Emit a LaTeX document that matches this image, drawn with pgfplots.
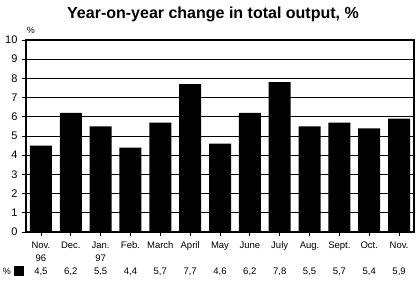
\documentclass[border=0pt]{standalone}
\usepackage{pgfplots}
\pgfplotsset{compat=1.18}
\usepackage{fontspec}
\setmainfont{Liberation Sans}
\begin{document}
\begin{tikzpicture}[x=1pt,y=1pt]
\useasboundingbox (-26,-49) rectangle (391,232);
\begin{axis}[at={(0,0)}, anchor=south west, scale only axis,
  width=388pt, height=192pt,
  xmin=-0.5, xmax=12.5, ymin=0, ymax=10,
  ytick={0,1,...,10}, xtick={0,1,...,12},
  xticklabels={{Nov.\\96\\4,5}, {Dec.\\\strut\\6,2}, {Jan.\\97\\5,5}, {Feb.\\\strut\\4,4}, {March\\\strut\\5,7}, {April\\\strut\\7,7}, {May\\\strut\\4,6}, {June\\\strut\\6,2}, {July\\\strut\\7,8}, {Aug.\\\strut\\5,5}, {Sept.\\\strut\\5,7}, {Oct.\\\strut\\5,4}, {Nov.\\\strut\\5,9}},
  xticklabel style={align=center, font=\fontsize{9.5}{13}\selectfont, yshift=-2.5pt},
  yticklabel style={font=\fontsize{11}{12}\selectfont, xshift=-1pt},
  /pgf/number format/assume math mode=true,
  ymajorgrids, grid style={black, line width=0.8pt},
  tick align=outside, major tick length=4pt,
  tick style={black, line width=0.8pt},
  tick pos=left,
  axis line style={line width=1.6pt},
  clip=false,
]
\addplot[ybar, bar width=22pt, fill=black, draw=none] coordinates {
(0,4.5) (1,6.2) (2,5.5) (3,4.4) (4,5.7) (5,7.7) (6,4.6) (7,6.2) (8,7.8) (9,5.5) (10,5.7) (11,5.4) (12,5.9)};
\end{axis}
\node[font=\bfseries\fontsize{16}{18}\selectfont] at (187,218) {Year-on-year change in total output, \%};
\node[font=\fontsize{9}{10}\selectfont] at (5,202) {\%};
\node[font=\fontsize{9}{10}\selectfont] at (-19,-39) {\%};
\fill[black] (-12,-34) rectangle (-2,-44);
\end{tikzpicture}
\end{document}
